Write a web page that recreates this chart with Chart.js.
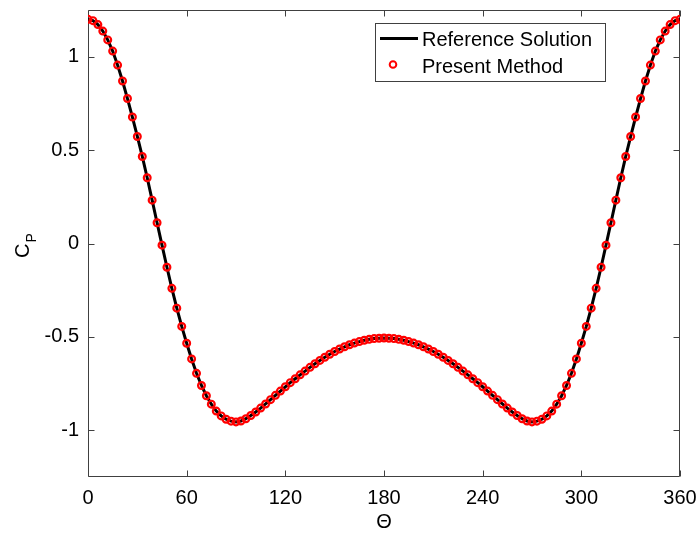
<!DOCTYPE html>
<html>
<head>
<meta charset="utf-8">
<script src="https://cdn.jsdelivr.net/npm/chart.js@4.4.1/dist/chart.umd.min.js"></script>
<style>
	html, body { margin: 0; padding: 0; background: #ffffff; }
	#wrap { width: 699px; height: 536px; }
</style>
</head>
<body>
<div id="wrap"><canvas id="cp-chart" width="699" height="536"></canvas></div>
<script>
// 각도 (deg)
var thetaDeg = [
	0, 3, 6, 9, 12, 15, 18, 21, 24, 27, 30, 33, 36, 39, 42, 45, 48, 51, 54, 57,
	60, 63, 66, 69, 72, 75, 78, 81, 84, 87, 90, 93, 96, 99, 102, 105, 108, 111, 114, 117,
	120, 123, 126, 129, 132, 135, 138, 141, 144, 147, 150, 153, 156, 159, 162, 165, 168, 171, 174, 177,
	180, 183, 186, 189, 192, 195, 198, 201, 204, 207, 210, 213, 216, 219, 222, 225, 228, 231, 234, 237,
	240, 243, 246, 249, 252, 255, 258, 261, 264, 267, 270, 273, 276, 279, 282, 285, 288, 291, 294, 297,
	300, 303, 306, 309, 312, 315, 318, 321, 324, 327, 330, 333, 336, 339, 342, 345, 348, 351, 354, 357,
	360
];

// Cp 값
var cpValues = [
	1.200, 1.193, 1.172, 1.137, 1.090, 1.030, 0.955, 0.870, 0.776, 0.677,
	0.573, 0.466, 0.352, 0.232, 0.111, -0.009, -0.127, -0.240, -0.346, -0.444,
	-0.534, -0.618, -0.695, -0.760, -0.815, -0.860, -0.897, -0.923, -0.941, -0.951,
	-0.955, -0.950, -0.938, -0.921, -0.902, -0.881, -0.859, -0.836, -0.813, -0.790,
	-0.767, -0.745, -0.724, -0.703, -0.683, -0.663, -0.644, -0.626, -0.609, -0.593,
	-0.578, -0.565, -0.553, -0.542, -0.533, -0.525, -0.518, -0.513, -0.509, -0.507,
	-0.506, -0.507, -0.509, -0.513, -0.518, -0.525, -0.533, -0.542, -0.553, -0.565,
	-0.578, -0.593, -0.609, -0.626, -0.644, -0.663, -0.683, -0.703, -0.724, -0.745,
	-0.767, -0.790, -0.813, -0.836, -0.859, -0.881, -0.902, -0.921, -0.938, -0.950,
	-0.955, -0.951, -0.941, -0.923, -0.897, -0.860, -0.815, -0.760, -0.695, -0.618,
	-0.534, -0.444, -0.346, -0.240, -0.127, -0.009, 0.111, 0.232, 0.352, 0.466,
	0.573, 0.677, 0.776, 0.870, 0.955, 1.030, 1.090, 1.137, 1.172, 1.193,
	1.200
];

var xTicks = [0, 60, 120, 180, 240, 300, 360];
var yTicks = [-1, -0.5, 0, 0.5, 1];
var seriesNames = ["Reference Solution", "Present Method"];

var FONT = "'Liberation Sans', Arial, Helvetica, sans-serif";
var AXIS_COLOR = "#404040";

var points = thetaDeg.map(function(t, i) { return { x: t, y: cpValues[i] }; });

// 박스 + 안쪽 눈금
var framePlugin = {
	id: 'frame',
	beforeDatasetsDraw: function(chart) {
		var ctx = chart.ctx, a = chart.chartArea;
		var xs = chart.scales.x, ys = chart.scales.y;
		var L = Math.round(a.left) + 0.5, R = Math.round(a.right) - 0.5;
		var T = Math.round(a.top) + 0.5, B = Math.round(a.bottom) - 0.5;
		ctx.save();
		ctx.strokeStyle = AXIS_COLOR;
		ctx.lineWidth = 1;
		ctx.beginPath();
		ctx.rect(L, T, R - L, B - T);
		xTicks.forEach(function(v) {
			var px = Math.round(xs.getPixelForValue(v)) + 0.5;
			ctx.moveTo(px, B); ctx.lineTo(px, B - 6);
			ctx.moveTo(px, T); ctx.lineTo(px, T + 6);
		});
		yTicks.forEach(function(v) {
			var py = Math.round(ys.getPixelForValue(v)) + 0.5;
			ctx.moveTo(L, py); ctx.lineTo(L + 6, py);
			ctx.moveTo(R, py); ctx.lineTo(R - 6, py);
		});
		ctx.stroke();
		ctx.restore();
	},
	afterDraw: function(chart) {
		var ctx = chart.ctx;
		ctx.save();
		// y축 제목 C_P
		ctx.fillStyle = "#000000";
		ctx.translate(29, 258);
		ctx.rotate(-Math.PI / 2);
		ctx.textBaseline = "alphabetic";
		ctx.textAlign = "left";
		ctx.font = "20px " + FONT;
		ctx.fillText("C", 0, 0);
		var w = ctx.measureText("C").width;
		ctx.font = "14px " + FONT;
		ctx.fillText("P", w + 1, 7);
		ctx.restore();

		// 범례
		var ds = chart.data.datasets;
		ctx.save();
		ctx.fillStyle = "#ffffff";
		ctx.fillRect(375, 23, 230, 58);
		ctx.strokeStyle = AXIS_COLOR;
		ctx.lineWidth = 1;
		ctx.strokeRect(375.5, 23.5, 230, 58);
		ctx.strokeStyle = "#000000";
		ctx.lineWidth = 3;
		ctx.beginPath();
		ctx.moveTo(380, 38.5); ctx.lineTo(418, 38.5);
		ctx.stroke();
		ctx.strokeStyle = "#ff0000";
		ctx.lineWidth = 2;
		ctx.beginPath();
		ctx.arc(393, 64.5, 3.3, 0, Math.PI * 2);
		ctx.stroke();
		ctx.fillStyle = "#000000";
		ctx.font = "20px " + FONT;
		ctx.textBaseline = "middle";
		ctx.textAlign = "left";
		ctx.fillText(ds[1].label, 422, 40);
		ctx.fillText(ds[0].label, 422, 67);
		ctx.restore();
	}
};

new Chart(document.getElementById("cp-chart"), {
	type: 'scatter',
	data: {
		datasets: [{
			label: seriesNames[1],
			data: points,
			showLine: false,
			pointStyle: 'circle',
			pointRadius: 3.4,
			pointBorderWidth: 2.2,
			pointBorderColor: '#ff0000',
			pointBackgroundColor: 'rgba(0,0,0,0)',
			order: 0
		}, {
			label: seriesNames[0],
			data: points,
			showLine: true,
			borderColor: '#000000',
			borderWidth: 3,
			pointRadius: 0,
			tension: 0,
			order: 1
		}]
	},
	options: {
		responsive: false,
		animation: false,
		devicePixelRatio: 1,
		layout: { padding: { top: 10, right: 19, left: 0, bottom: 0 } },
		plugins: {
			legend: { display: false },
			tooltip: { enabled: false }
		},
		scales: {
			x: {
				type: 'linear',
				min: 0,
				max: 360,
				grid: { display: false, drawTicks: false },
				border: { display: false },
				afterBuildTicks: function(scale) {
					scale.ticks = xTicks.map(function(v) { return { value: v }; });
				},
				afterFit: function(scale) {
					scale.height = 59;
					scale.paddingLeft = 0;
					scale.paddingRight = 0;
				},
				ticks: {
					color: '#000000',
					padding: 9,
					maxRotation: 0,
					font: { family: FONT, size: 20 },
					callback: function(v) { return String(v); }
				},
				title: {
					display: true,
					text: 'Θ',
					color: '#000000',
					font: { family: FONT, size: 20 },
					padding: { top: 0, bottom: 2 }
				}
			},
			y: {
				type: 'linear',
				min: -1.25,
				max: 1.25,
				grid: { display: false, drawTicks: false },
				border: { display: false },
				afterBuildTicks: function(scale) {
					scale.ticks = yTicks.map(function(v) { return { value: v }; });
				},
				afterFit: function(scale) {
					scale.width = 88;
					scale.paddingTop = 0;
					scale.paddingBottom = 0;
				},
				ticks: {
					color: '#000000',
					padding: 9,
					font: { family: FONT, size: 20 },
					callback: function(v) { return String(v); }
				}
			}
		}
	},
	plugins: [framePlugin]
});
</script>
</body>
</html>
